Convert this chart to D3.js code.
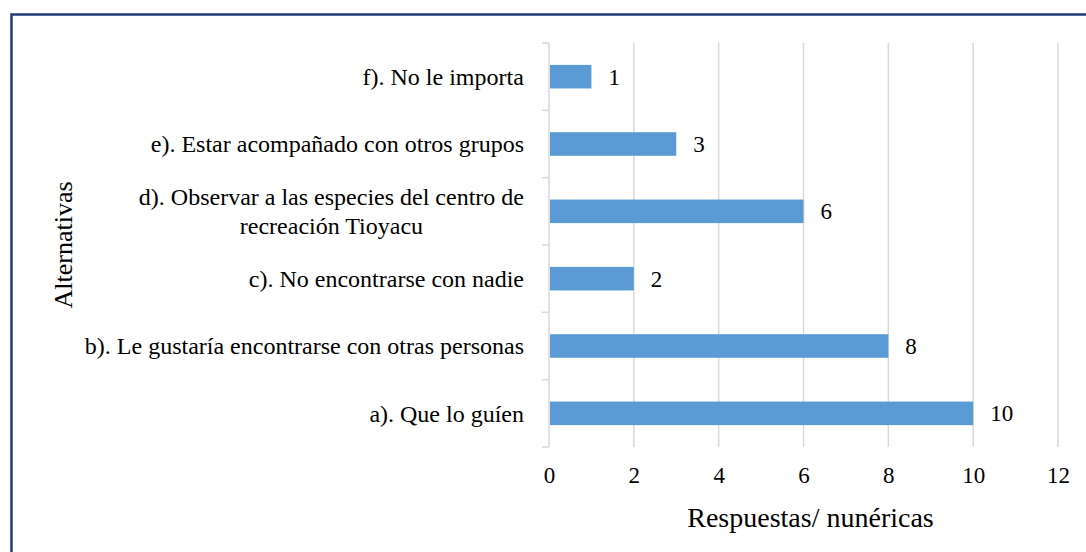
<!DOCTYPE html>
<html lang="es">
<head>
    <meta charset="UTF-8">
    <title>Alternativas</title>
    <style>
        html, body { margin: 0; padding: 0; background: #fff; }
    </style>
</head>
<body>
    <div id="chart"></div>

    <script src="https://d3js.org/d3.v7.min.js"></script>
    <script>
        // Data, bottom to top as in the picture
        var categories = [
            ["a). Que lo guíen"],
            ["b). Le gustaría encontrarse con otras personas"],
            ["c). No encontrarse con nadie"],
            ["d). Observar a las especies del centro de", "recreación Tioyacu"],
            ["e). Estar acompañado con otros grupos"],
            ["f). No le importa"]
        ];
        var values = [10, 8, 2, 6, 3, 1];
        var xTicks = [0, 2, 4, 6, 8, 10, 12];
        var xTitle = "Respuestas/ nunéricas";
        var yTitle = "Alternativas";

        var FONT = "'Liberation Serif', 'Times New Roman', Tinos, serif";

        var W = 1086, H = 552;
        var margin = { top: 43, right: 28, bottom: 105, left: 549 };
        var width = W - margin.left - margin.right,
            height = H - margin.top - margin.bottom;

        var svg = d3.select("#chart").append("svg")
            .attr("width", W)
            .attr("height", H)
            .style("font-family", FONT);

        // Outer frame (only top and left edges show in the picture)
        svg.append("rect")
            .attr("x", 11.5).attr("y", 14.5)
            .attr("width", W + 20).attr("height", H + 20)
            .attr("fill", "none")
            .attr("stroke", "#1f3b73")
            .attr("stroke-width", 2.5);

        var g = svg.append("g")
            .attr("transform", "translate(" + margin.left + "," + margin.top + ")");

        var ids = d3.range(values.length);

        var x = d3.scaleLinear().domain([0, 12]).range([0, 509]);

        // index 0 at the bottom
        var yOuter = d3.scaleBand().domain(ids.slice().reverse()).range([0, height]);
        var y = d3.scaleBand()
            .domain(ids.slice().reverse())
            .range([0, height])
            .paddingInner(0.65)
            .paddingOuter(0.325);

        // Vertical gridlines
        g.append("g")
            .selectAll("line")
            .data(xTicks.slice(1))
            .enter().append("line")
            .attr("x1", function(d) { return x(d); })
            .attr("x2", function(d) { return x(d); })
            .attr("y1", 0)
            .attr("y2", height)
            .attr("stroke", "#d9d9d9")
            .attr("stroke-width", 1.5);

        // Left category axis line with ticks between categories
        var yAxisG = g.append("g");
        yAxisG.append("line")
            .attr("x1", 0).attr("x2", 0)
            .attr("y1", 0).attr("y2", height)
            .attr("stroke", "#d9d9d9")
            .attr("stroke-width", 1.5);
        yAxisG.selectAll(".boundary")
            .data(d3.range(values.length + 1))
            .enter().append("line")
            .attr("class", "boundary")
            .attr("x1", -7).attr("x2", 0)
            .attr("y1", function(d) { return d * yOuter.step(); })
            .attr("y2", function(d) { return d * yOuter.step(); })
            .attr("stroke", "#d9d9d9")
            .attr("stroke-width", 1.5);

        // Bars
        g.append("g")
            .selectAll("rect")
            .data(ids)
            .enter().append("rect")
            .attr("x", x(0) + 1)
            .attr("y", function(i) { return y(i); })
            .attr("width", function(i) { return x(values[i]) - x(0) - 1; })
            .attr("height", y.bandwidth())
            .attr("fill", "#5b9bd5");

        // Value labels
        g.append("g")
            .selectAll("text")
            .data(ids)
            .enter().append("text")
            .attr("x", function(i) { return x(values[i]) + 17; })
            .attr("y", function(i) { return y(i) + y.bandwidth() / 2; })
            .attr("dy", "0.35em")
            .style("font-size", "23px")
            .text(function(i) { return values[i]; });

        // Category labels (block right-aligned, lines centred within block)
        var lineH = 29;
        var labelG = g.append("g");
        ids.forEach(function(i) {
            var lines = categories[i];
            var cy = yOuter(i) + yOuter.bandwidth() / 2;
            var t = labelG.append("text")
                .style("font-size", "24px")
                .attr("text-anchor", "middle");
            lines.forEach(function(s, k) {
                t.append("tspan").attr("x", 0)
                    .attr("y", cy + (k - (lines.length - 1) / 2) * lineH)
                    .attr("dy", "0.35em")
                    .text(s);
            });
            var w = t.node().getBBox().width;
            t.selectAll("tspan").attr("x", -25 - w / 2);
        });

        // Bottom value axis (labels only)
        var xAxis = d3.axisBottom(x).tickValues(xTicks).tickSize(0);
        var xAxisG = g.append("g")
            .attr("transform", "translate(0," + height + ")")
            .call(xAxis)
            .attr("font-family", null)
            .attr("font-size", null);
        xAxisG.select(".domain").remove();
        xAxisG.selectAll("text")
            .attr("y", 28)
            .attr("dy", "0.35em")
            .style("font-size", "23px")
            .attr("fill", "#000");

        // Axis titles
        g.append("text")
            .attr("x", x(6) + 7)
            .attr("y", height + 70)
            .attr("dy", "0.35em")
            .attr("text-anchor", "middle")
            .style("font-size", "28px")
            .text(xTitle);

        svg.append("text")
            .attr("transform", "translate(63," + (margin.top + height / 2) + ") rotate(-90)")
            .attr("dy", "0.35em")
            .attr("text-anchor", "middle")
            .style("font-size", "26px")
            .text(yTitle);
    </script>
</body>
</html>
